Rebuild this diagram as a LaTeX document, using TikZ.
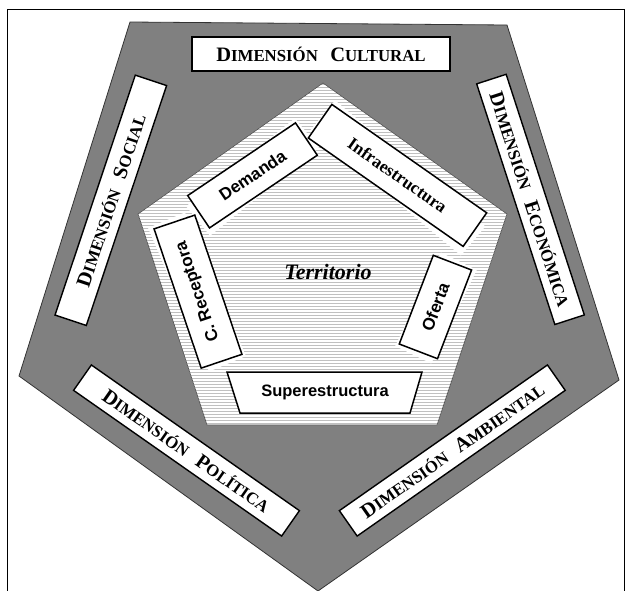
\documentclass[tikz,border=0pt]{standalone}
\usepackage{fontspec}
\setmainfont{Liberation Serif}
\newfontfamily\sansf{Liberation Sans}
\newcommand\smallcap[1]{{\fontsize{16.8}{16.8}\selectfont #1}}
\definecolor{darkfill}{RGB}{128,128,128}
\definecolor{hatchline}{RGB}{192,192,192}
\begin{document}
\begin{tikzpicture}[x=1pt,y=-1pt,
  dimbox/.style={draw=black, line width=1.4pt, fill=white, inner sep=0pt,
    font=\bfseries\fontsize{20.5}{20.5}\selectfont},
  inbox/.style={draw=black, line width=1.5pt, fill=white, inner sep=0pt,
    font=\sansf\bfseries\fontsize{17}{17}\selectfont},
  halo/.style={fill=white, inner sep=0pt, draw=none},
  edge/.style={draw=black!80, line width=0.8pt}]
\useasboundingbox (0,0) rectangle (629,590);
\clip (0,0) rectangle (629,590);
% frame
\draw[line width=0.8pt] (7,9) rectangle (624,600);
% outer pentagon
\coordinate (o1) at (130,22);
\coordinate (o2) at (507,25);
\coordinate (o3) at (619,380);
\coordinate (o4) at (318,591);
\coordinate (o5) at (19,376);
\filldraw[fill=darkfill, edge] (o1) -- (o2) -- (o3) -- (o4) -- (o5) -- cycle;
% inner pentagon
\coordinate (i1) at (323,83);
\coordinate (i2) at (507,214);
\coordinate (i3) at (437,425);
\coordinate (i4) at (207,425);
\coordinate (i5) at (138,214);
\begin{scope}
\clip (i1) -- (i2) -- (i3) -- (i4) -- (i5) -- cycle;
\fill[white] (130,80) rectangle (510,430);
\foreach \y in {84.5,87.5,...,426} \draw[hatchline, line width=1.4pt] (130,\y) -- (510,\y);
\end{scope}
\draw[draw=black!70, line width=0.6pt] (i1) -- (i2) -- (i3) -- (i4) -- (i5) -- cycle;
% halos behind inner labels
\node[halo, rotate=39, minimum width=140pt, minimum height=38pt] (hdem) at (252.5,177) {};
\node[halo, rotate=-40, minimum width=196pt, minimum height=38pt] (hinf) at (398,178) {};
\node[halo, rotate=113, minimum width=156pt, minimum height=40pt] (hrec) at (197,292) {};
\node[halo, rotate=64, minimum width=104pt, minimum height=40pt] (hofe) at (436,308) {};
% inner labels
\node[inbox, rotate=34, minimum width=130pt, minimum height=39pt] (dem) at (252.5,175.4) {Demanda};
\node[inbox, rotate=-35, minimum width=189pt, minimum height=41pt,
  font=\bfseries\fontsize{17.5}{17.5}\selectfont] (inf) at (397.5,175.4) {Infraestructura};
\node[inbox, rotate=108.7, minimum width=147pt, minimum height=43pt] (rec) at (198,291.6) {C. Receptora};
\node[inbox, rotate=69, minimum width=95pt, minimum height=41pt] (ofe) at (435.4,307) {Oferta};
\coordinate (s1) at (227,372);
\coordinate (s2) at (422,372);
\coordinate (s3) at (410,413);
\coordinate (s4) at (240,413);
\filldraw[fill=white, draw=black, line width=1.5pt] (s1) -- (s2) -- (s3) -- (s4) -- cycle;
\node[inner sep=0pt, font=\sansf\bfseries\fontsize{16.5}{16.5}\selectfont] (sup) at (325,392.5) {Superestructura};
\node[inner sep=0pt, font=\bfseries\itshape\fontsize{22}{22}\selectfont] (ter) at (328,272) {Territorio};
% dimension labels
\node[dimbox, minimum width=258pt, minimum height=34pt] (cul) at (321,54)
  {D\smallcap{IMENSIÓN}\hspace{0.6em}C\smallcap{ULTURAL}};
\node[dimbox, rotate=71.5, minimum width=253pt, minimum height=33pt] (soc) at (110.8,200.3)
  {D\smallcap{IMENSIÓN}\hspace{0.6em}S\smallcap{OCIAL}};
\node[dimbox, rotate=-72, minimum width=253pt, minimum height=31pt] (eco) at (530.5,199.4)
  {D\smallcap{IMENSIÓN}\hspace{0.6em}E\smallcap{CONÓMICA}};
\node[dimbox, rotate=-35, minimum width=254pt, minimum height=31pt] (pol) at (186.5,450.5)
  {D\smallcap{IMENSIÓN}\hspace{0.6em}P\smallcap{OLÍTICA}};
\node[dimbox, rotate=35, minimum width=254pt, minimum height=31pt] (amb) at (452.3,450.5)
  {D\smallcap{IMENSIÓN}\hspace{0.6em}A\smallcap{MBIENTAL}};
\end{tikzpicture}
\end{document}
